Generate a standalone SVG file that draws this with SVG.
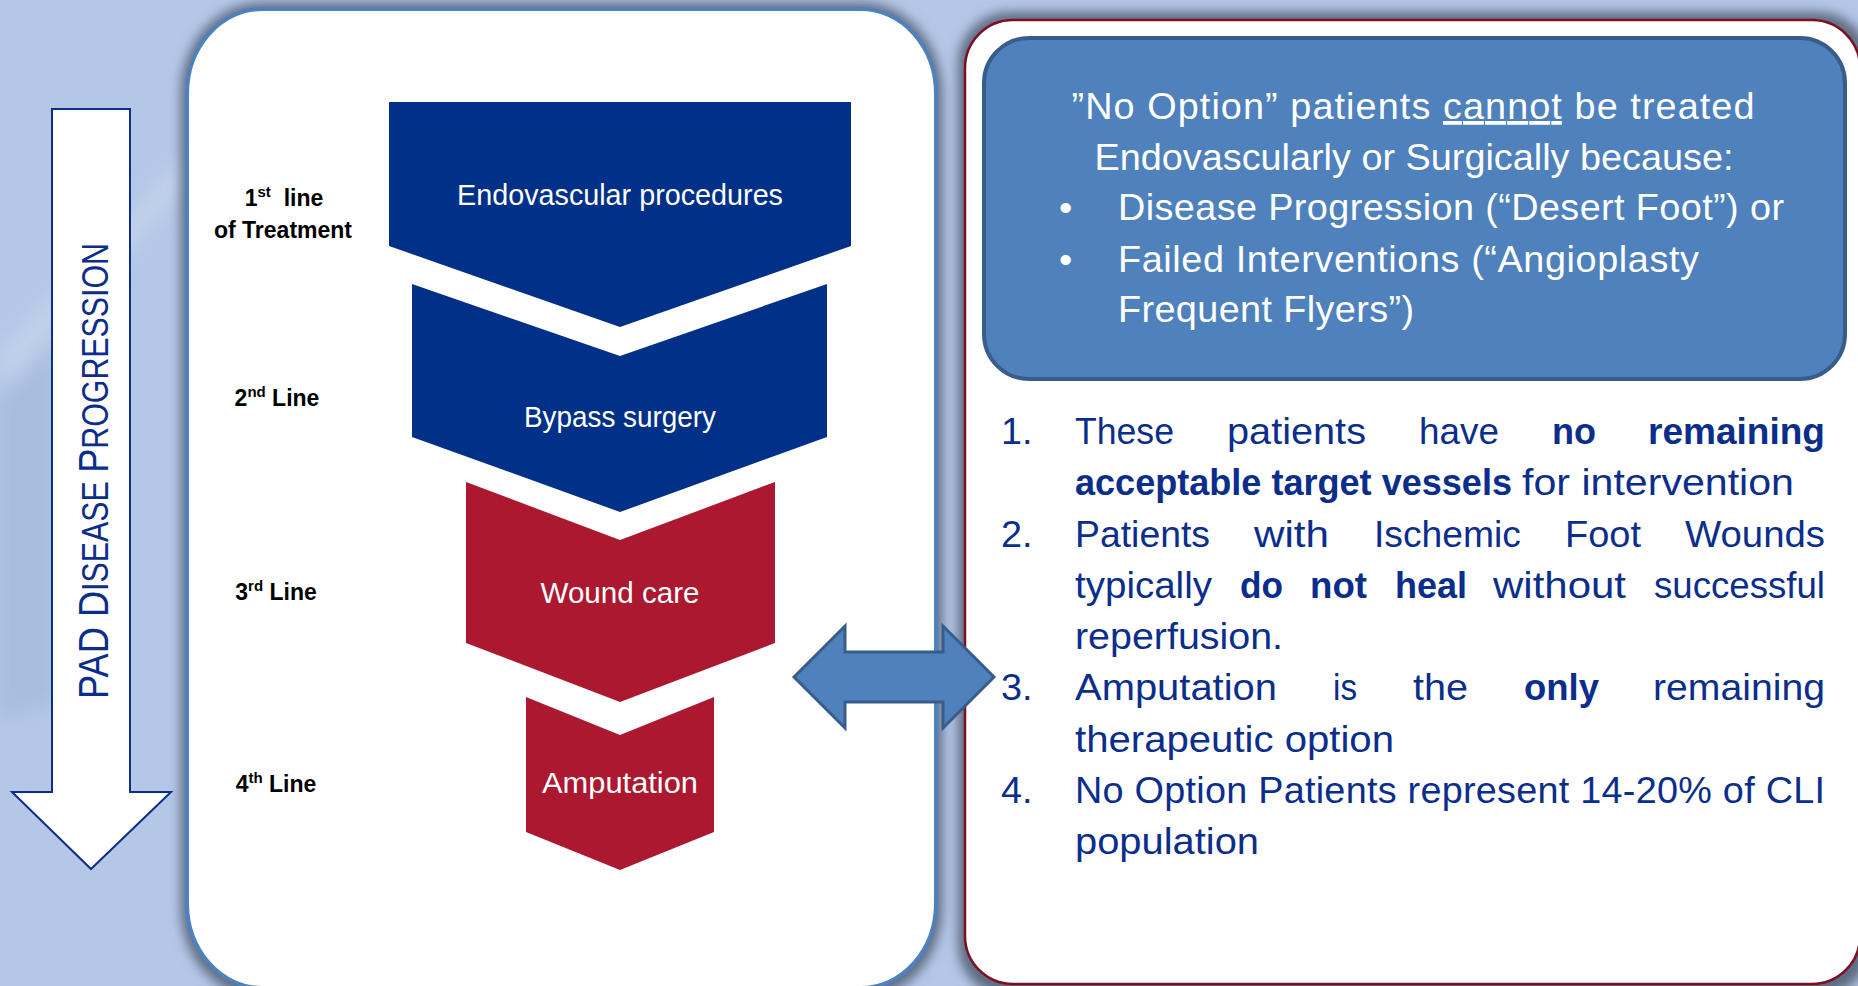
<svg xmlns="http://www.w3.org/2000/svg" width="1858" height="986" viewBox="0 0 1858 986">
  <style>
    .bg { fill: #b4c7e7; }
    .panel-shadow { fill: #5d6b80; filter: url(#soft); }
    .panel-left { fill: #ffffff; stroke: #4f81bd; stroke-width: 4; }
    .panel-right { fill: #ffffff; stroke: #7d0f22; stroke-width: 2.5; }
    .callout { fill: #4f81bd; stroke: #385d8a; stroke-width: 4; }
    .navy { fill: #003087; }
    .crimson { fill: #ab1830; }
    .step { font-family: "Liberation Sans", Arial, sans-serif; font-size: 29px; fill: #ffffff; text-anchor: middle; }
    .lbl { font-family: "Liberation Sans", Arial, sans-serif; font-weight: bold; font-size: 23px; fill: #000000; text-anchor: middle; white-space: pre; }
    .sup { font-size: 15px; }
    .axis { font-family: "Liberation Sans", Arial, sans-serif; fill: #0c2d8a; }
    .progress { fill: #ffffff; stroke: #0c2d8a; stroke-width: 2; }
    .link { fill: #4f81bd; stroke: #385d8a; stroke-width: 3; stroke-linejoin: miter; }
    .head { font-family: "Liberation Sans", Arial, sans-serif; font-size: 37.8px; fill: #ffffff; }
    .list text { font-family: "Liberation Sans", Arial, sans-serif; font-size: 37.8px; fill: #0b2e8c; }
    .list text.b { font-weight: bold; }
  </style>
  <defs>
    <filter id="soft" x="-10%" y="-10%" width="120%" height="120%">
      <feGaussianBlur stdDeviation="6"/>
    </filter>
    <filter id="haze" x="-50%" y="-50%" width="200%" height="200%">
      <feGaussianBlur stdDeviation="10"/>
    </filter>
  </defs>

  <!-- backdrop with faint diagonal streaks -->
  <rect class="bg" x="0" y="0" width="1858" height="986"/>
  <polygon points="0,395 0,720 55,700 55,340" fill="#9cb6d6" opacity="0.55" filter="url(#haze)"/>
  <polygon points="0,352 190,150 190,182 0,392" fill="#c8d7ed" opacity="0.7" filter="url(#haze)"/>

  <!-- panel shadows -->
  <rect class="panel-shadow" x="181" y="3" width="761" height="995" rx="80" ry="90"/>
  <rect class="panel-shadow" x="958" y="12" width="912" height="985" rx="52"/>

  <!-- left panel: treatment ladder -->
  <g id="panel-treatment">
    <rect class="panel-left" x="187" y="9" width="749" height="979" rx="75" ry="85"/>
  </g>

  <!-- right panel: no-option patients -->
  <g id="panel-no-option">
    <rect class="panel-right" x="965" y="20" width="895" height="964" rx="48"/>
  </g>

  <!-- disease progression arrow -->
  <g id="progression">
    <path class="progress" d="M52,109 L130,109 L130,792 L171,792 L91,869 L12,792 L52,792 Z"/>
    <text class="axis" transform="translate(108,699) rotate(-90)" x="0" y="0" textLength="456" lengthAdjust="spacingAndGlyphs"><tspan font-size="43">PAD D</tspan><tspan font-size="36">ISEASE </tspan><tspan font-size="43">P</tspan><tspan font-size="36">ROGRESSION</tspan></text>
  </g>

  <!-- treatment steps -->
  <g id="step-endovascular">
    <path class="navy" d="M389,102 L851,102 L851,246 L620,327 L389,246 Z"/>
    <text class="step" x="620" y="205" textLength="326" lengthAdjust="spacingAndGlyphs">Endovascular procedures</text>
  </g>
  <g id="step-bypass">
    <path class="navy" d="M412,284 L620,356 L827,284 L827,437 L620,512 L412,437 Z"/>
    <text class="step" x="620" y="427" textLength="192" lengthAdjust="spacingAndGlyphs">Bypass surgery</text>
  </g>
  <g id="step-wound">
    <path class="crimson" d="M466,482 L620,540 L775,482 L775,643 L620,702 L466,643 Z"/>
    <text class="step" x="620" y="603" textLength="159" lengthAdjust="spacingAndGlyphs">Wound care</text>
  </g>
  <g id="step-amputation">
    <path class="crimson" d="M526,697 L620,735 L714,697 L714,832 L620,870 L526,832 Z"/>
    <text class="step" x="620" y="793" textLength="156" lengthAdjust="spacingAndGlyphs">Amputation</text>
  </g>

  <!-- line-of-treatment labels -->
  <g id="labels">
    <text class="lbl" x="284" y="206">1<tspan class="sup" dy="-9">st</tspan><tspan dy="9">  line</tspan></text>
    <text class="lbl" x="283" y="238">of Treatment</text>
    <text class="lbl" x="277" y="406">2<tspan class="sup" dy="-9">nd</tspan><tspan dy="9"> Line</tspan></text>
    <text class="lbl" x="276" y="600">3<tspan class="sup" dy="-9">rd</tspan><tspan dy="9"> Line</tspan></text>
    <text class="lbl" x="276" y="792">4<tspan class="sup" dy="-9">th</tspan><tspan dy="9"> Line</tspan></text>
  </g>

  <!-- connector between the ladder and the no-option panel -->
  <g id="connectors">
    <path class="link" d="M794,677 L845,626 L845,652 L943,652 L943,626 L994,677 L943,728 L943,702 L845,702 L845,728 Z"/>
  </g>

  <!-- callout box -->
  <g id="callout">
    <rect class="callout" x="984" y="38" width="861" height="341" rx="45"/>
    <text class="head" x="1413" y="119" text-anchor="middle" textLength="683" lengthAdjust="spacing">”No Option” patients <tspan text-decoration="underline">cannot</tspan> be treated</text>
    <text class="head" x="1414" y="170" text-anchor="middle" textLength="639" lengthAdjust="spacing">Endovascularly or Surgically because:</text>
    <text class="head" x="1059" y="220">•</text>
    <text class="head" x="1118" y="220" textLength="666" lengthAdjust="spacing">Disease Progression (“Desert Foot”) or</text>
    <text class="head" x="1059" y="272">•</text>
    <text class="head" x="1118" y="272" textLength="581" lengthAdjust="spacing">Failed Interventions (“Angioplasty</text>
    <text class="head" x="1118" y="322" textLength="296" lengthAdjust="spacing">Frequent Flyers”)</text>
  </g>

  <!-- numbered statements, justified word by word -->
  <g id="statements" class="list">
    <text x="1001" y="444">1.</text>
    <text x="1075" y="444" textLength="99" lengthAdjust="spacingAndGlyphs">These</text>
    <text x="1227" y="444" textLength="139" lengthAdjust="spacingAndGlyphs">patients</text>
    <text x="1419" y="444" textLength="80" lengthAdjust="spacingAndGlyphs">have</text>
    <text class="b" x="1552" y="444" textLength="44" lengthAdjust="spacingAndGlyphs">no</text>
    <text class="b" x="1648" y="444" textLength="177" lengthAdjust="spacingAndGlyphs">remaining</text>
    <text class="b" x="1075" y="495" textLength="437" lengthAdjust="spacingAndGlyphs">acceptable target vessels</text>
    <text x="1522" y="495" textLength="272" lengthAdjust="spacingAndGlyphs">for intervention</text>

    <text x="1001" y="547">2.</text>
    <text x="1075" y="547" textLength="135" lengthAdjust="spacingAndGlyphs">Patients</text>
    <text x="1254" y="547" textLength="75" lengthAdjust="spacingAndGlyphs">with</text>
    <text x="1374" y="547" textLength="147" lengthAdjust="spacingAndGlyphs">Ischemic</text>
    <text x="1565" y="547" textLength="76" lengthAdjust="spacingAndGlyphs">Foot</text>
    <text x="1685" y="547" textLength="140" lengthAdjust="spacingAndGlyphs">Wounds</text>
    <text x="1075" y="598" textLength="137" lengthAdjust="spacingAndGlyphs">typically</text>
    <text class="b" x="1240" y="598" textLength="43" lengthAdjust="spacingAndGlyphs">do</text>
    <text class="b" x="1310" y="598" textLength="57" lengthAdjust="spacingAndGlyphs">not</text>
    <text class="b" x="1395" y="598" textLength="72" lengthAdjust="spacingAndGlyphs">heal</text>
    <text x="1493" y="598" textLength="133" lengthAdjust="spacingAndGlyphs">without</text>
    <text x="1654" y="598" textLength="171" lengthAdjust="spacingAndGlyphs">successful</text>
    <text x="1075" y="649" textLength="208" lengthAdjust="spacingAndGlyphs">reperfusion.</text>

    <text x="1001" y="700">3.</text>
    <text x="1075" y="700" textLength="202" lengthAdjust="spacingAndGlyphs">Amputation</text>
    <text x="1333" y="700" textLength="24" lengthAdjust="spacingAndGlyphs">is</text>
    <text x="1413" y="700" textLength="55" lengthAdjust="spacingAndGlyphs">the</text>
    <text class="b" x="1524" y="700" textLength="75" lengthAdjust="spacingAndGlyphs">only</text>
    <text x="1653" y="700" textLength="172" lengthAdjust="spacingAndGlyphs">remaining</text>
    <text x="1075" y="752" textLength="319" lengthAdjust="spacingAndGlyphs">therapeutic option</text>

    <text x="1001" y="803">4.</text>
    <text x="1075" y="803" textLength="750" lengthAdjust="spacing">No Option Patients represent 14-20% of CLI</text>
    <text x="1075" y="854" textLength="184" lengthAdjust="spacingAndGlyphs">population</text>
  </g>
</svg>
